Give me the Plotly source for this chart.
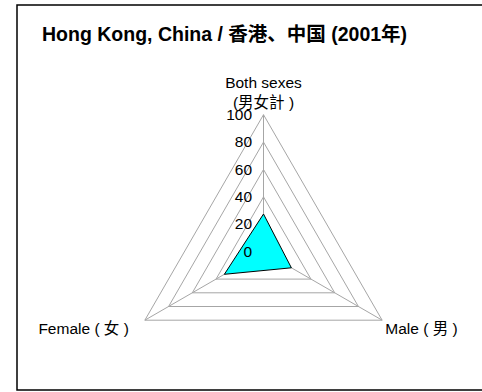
import plotly.graph_objects as go

nb = "\u00a0"
categories = ["Both sexes<br>(男女計 )", "Male ( 男 )", "Female ( 女 )" + nb * 3]
values = [27.5, 23.5, 33.0]
radial_ticks = [0, 20, 40, 60, 80, 100]
title_text = "Hong Kong, China / 香港、中国 (2001年)"

# close the polygon
r = values + values[:1]
theta = categories + categories[:1]

fig = go.Figure()
fig.add_trace(go.Scatterpolar(
    r=r,
    theta=theta,
    mode="lines",
    fill="toself",
    fillcolor="#00FFFF",
    line=dict(color="black", width=1),
    hoverinfo="skip",
))

W, H = 482, 392
cx, cy, rad = 263.5, 251.7, 137.0
fnt = "Liberation Sans, Arial, Noto Sans CJK SC"
pad = nb * 2  # pushes radial labels left of the axis

fig.update_layout(
    width=W, height=H,
    margin=dict(l=0, r=0, t=0, b=0),
    paper_bgcolor="white",
    plot_bgcolor="white",
    showlegend=False,
    font=dict(family=fnt, size=15.5, color="black"),
    polar=dict(
        domain=dict(x=[(cx - rad) / W, (cx + rad) / W],
                    y=[(H - cy - rad) / H, (H - cy + rad) / H]),
        gridshape="linear",
        bgcolor="white",
        radialaxis=dict(
            range=[0, 100],
            tickvals=radial_ticks,
            ticktext=[str(v) + pad for v in radial_ticks],
            angle=90,
            tickangle=90,
            side="counterclockwise",
            showline=False,
            gridcolor="#a6a6a6",
            gridwidth=1,
            ticks="",
            tickfont=dict(size=15.5),
        ),
        angularaxis=dict(
            rotation=90,
            direction="clockwise",
            showline=True,
            linecolor="#a6a6a6",
            linewidth=1,
            gridcolor="#a6a6a6",
            ticks="",
            tickfont=dict(size=15.5),
        ),
    ),
    annotations=[dict(
        text="<b>" + title_text + "</b>",
        xref="paper", yref="paper",
        x=40 / W, y=1 - 34 / H,
        xanchor="left", yanchor="middle",
        showarrow=False,
        font=dict(size=19.5, family=fnt),
    )],
    shapes=[dict(
        type="rect", xref="paper", yref="paper",
        x0=17 / W, x1=1.02, y0=1 - 390 / H, y1=1 - 5 / H,
        line=dict(color="black", width=1.5),
    )],
)

fig.write_html("out.html", config={"displayModeBar": False},
               post_script="document.body.style.margin='0';document.body.style.overflow='hidden';")
